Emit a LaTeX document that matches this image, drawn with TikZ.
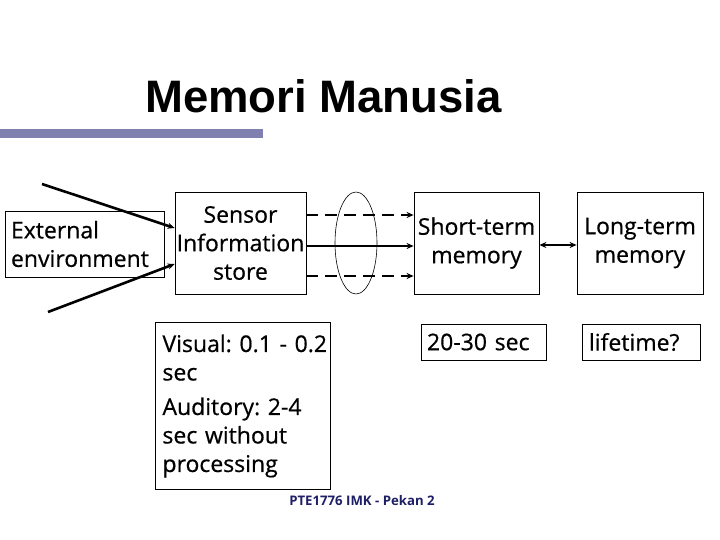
\documentclass[tikz,border=0pt]{standalone}
\usepackage{fontspec}
\setmainfont{Open Sans}[FakeBold=0.6]
\newfontfamily\titlefont{Liberation Sans}
\newfontfamily\footfont{Open Sans}
\usetikzlibrary{arrows.meta, calc, positioning, shapes.geometric}
\definecolor{barblue}{RGB}{128,128,176}
\definecolor{footnavy}{RGB}{31,31,102}
\frenchspacing
\tikzset{
  font=\fontsize{23}{28.5}\selectfont,
  % Set arrowhead
  >={Stealth[length=7pt,width=6pt]},
  % Memory stage box
  stage/.style={draw, line width=0.8pt, shape=rectangle, align=center,
    inner sep=0pt},
  % Duration box
  dur/.style={stage, align=left},
  % Thick flow arrows
  flow/.style={->, line width=2.6pt},
  dflow/.style={flow, dash pattern=on 12pt off 7pt},
}

\begin{document}
\begin{tikzpicture}[x=1pt, y=-1pt]
  \useasboundingbox (0,0) rectangle (720,540);

  % title
  \node[font=\titlefont\bfseries\fontsize{45.5}{48}\selectfont, anchor=base]
    (title) at (323.5,113) {Memori Manusia};
  \fill[barblue] (0,129) rectangle (263,138);

  % stages
  \node[stage, align=left, minimum width=159pt, minimum height=66pt,
    text width=147pt] (ext) at (84.5,244) {External\\environment};
  \node[stage, minimum width=131pt, minimum height=102pt] (sensor) at (240.5,243)
    {Sensor\\Information\\store};
  \node[stage, minimum width=125pt, minimum height=102pt] (stm) at (476.5,243)
    {Short-term\\memory};
  \node[stage, minimum width=126pt, minimum height=102pt] (ltm) at (640,243)
    {Long-term\\memory};
  \node[draw, ellipse, line width=0.6pt, minimum width=42pt, minimum height=102pt,
    inner sep=0pt] (att) at (356,243) {};

  % durations
  \node[dur, minimum width=175pt, minimum height=167pt, text width=161pt]
    (vis) at (243,406)
    {\mbox{Visual: 0.1 - 0.2}\\sec\\[6pt]Auditory: 2-4\\sec without\\processing};
  \node[dur, minimum width=125pt, minimum height=36pt, text width=113pt]
    (stmt) at (483.5,342) {20-30 sec};
  \node[dur, minimum width=118pt, minimum height=36pt, text width=104pt]
    (ltmt) at (641,342) {lifetime?};

  % input from the environment
  \coordinate (in1) at (42,184);
  \coordinate (in2) at (48,312);
  \draw[flow] (in1) -- ([yshift=15pt]sensor.west);
  \draw[flow] (in2) -- ([yshift=-21pt]sensor.west);

  % sensor store to short-term memory
  \draw[dflow] ([yshift=28pt]sensor.east) -- ([yshift=28pt]stm.west);
  \draw[flow] ([yshift=-3pt]sensor.east) -- ([yshift=-3pt]stm.west);
  \draw[dflow] ([yshift=-33pt]sensor.east) -- ([yshift=-33pt]stm.west);
  \draw[flow, <->] ([yshift=-2pt]stm.east) -- ([yshift=-2pt]ltm.west);

  \node[font=\footfont\bfseries\fontsize{13.2}{15}\selectfont, text=footnavy,
    anchor=base] (foot) at (362,505) {PTE1776 IMK - Pekan 2};
\end{tikzpicture}
\end{document}
